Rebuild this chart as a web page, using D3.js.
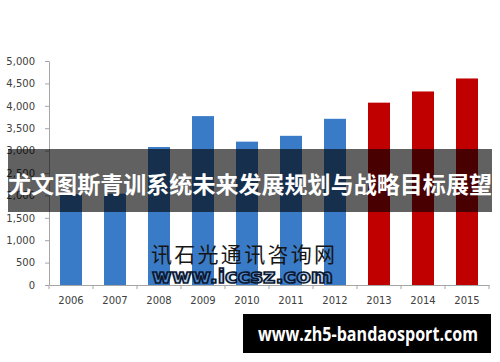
<!DOCTYPE html>
<html>
<head>
<meta charset="utf-8">
<script src="https://cdn.jsdelivr.net/npm/d3@7"></script>
<style>
    body { margin: 0; background: #fff; }
    svg { display: block; }
</style>
</head>
<body>
<div id="chart"></div>
<script>
const years = ["2006", "2007", "2008", "2009", "2010", "2011", "2012", "2013", "2014", "2015"];
const values = [2030, 2040, 3080, 3770, 3200, 3330, 3710, 4070, 4320, 4610];
const forecastYears = ["2013", "2014", "2015"];
const yTicks = [0, 500, 1000, 1500, 2000, 2500, 3000, 3500, 4000, 4500, 5000];

const titleText = "尤文图斯青训系统未来发展规划与战略目标展望";
const watermarkCn = "讯石光通讯咨询网";
const watermarkUrl = "www.iccsz.com";
const footerText = "www.zh5-bandaosport.com";

const width = 500, height = 362;
const margin = {top: 61, right: 11, bottom: 77, left: 49};

const svg = d3.select("#chart").append("svg")
    .attr("width", width)
    .attr("height", height);

const x = d3.scaleBand()
    .domain(years)
    .range([margin.left, width - margin.right])
    .paddingInner(0.5)
    .paddingOuter(0.25);

const y = d3.scaleLinear()
    .domain([0, 5000])
    .range([height - margin.bottom, margin.top]);

const axisColor = "#a6a6a6";
const labelColor = "#404040";

// bars
svg.append("g")
    .selectAll("rect")
    .data(years)
    .join("rect")
    .attr("x", d => x(d))
    .attr("width", x.bandwidth())
    .attr("y", (d, i) => y(values[i]))
    .attr("height", (d, i) => y(0) - y(values[i]))
    .attr("fill", d => forecastYears.includes(d) ? "#c00000" : "#3a7bc8");

// y axis
const yAxis = svg.append("g")
    .attr("transform", "translate(" + margin.left + ",0)")
    .call(d3.axisLeft(y).tickValues(yTicks).tickFormat(d3.format(",")).tickSize(4).tickSizeOuter(0));
yAxis.select(".domain").attr("stroke", axisColor);
yAxis.selectAll(".tick line").attr("stroke", axisColor);
yAxis.selectAll(".tick text")
    .attr("x", -14)
    .attr("fill", labelColor)
    .style("font-family", "DejaVu Sans")
    .style("font-size", "10px");

// x axis with ticks at the category boundaries
const xAxis = svg.append("g")
    .attr("transform", "translate(0," + y(0) + ")")
    .call(d3.axisBottom(x).tickSize(0).tickSizeOuter(0).tickPadding(12));
xAxis.select(".domain").attr("stroke", axisColor);
xAxis.selectAll(".tick text")
    .attr("fill", labelColor)
    .style("font-family", "DejaVu Sans")
    .style("font-size", "10px");

const bounds = years.map(d => x(d) - x.step() * x.paddingInner() / 2)
    .concat([width - margin.right]);
xAxis.selectAll("line.bound")
    .data(bounds)
    .join("line")
    .attr("class", "bound")
    .attr("x1", d => d).attr("x2", d => d)
    .attr("y1", 0).attr("y2", 4)
    .attr("stroke", axisColor);

// watermark
svg.append("text")
    .attr("x", 151)
    .attr("y", 262)
    .attr("textLength", 184)
    .attr("lengthAdjust", "spacing")
    .attr("fill", "#161616")
    .style("font-family", "Noto Sans CJK SC")
    .style("font-size", "21px")
    .text(watermarkCn);

svg.append("text")
    .attr("x", 152)
    .attr("y", 283)
    .attr("textLength", 181)
    .attr("lengthAdjust", "spacingAndGlyphs")
    .attr("fill", "#6f9fd8")
    .attr("fill-opacity", 0.5)
    .attr("stroke", "#0c1830")
    .attr("stroke-width", 1.6)
    .style("font-family", "DejaVu Sans")
    .style("font-weight", "bold")
    .style("font-size", "19px")
    .text(watermarkUrl);

// title banner
svg.append("rect")
    .attr("x", 8)
    .attr("y", 149)
    .attr("width", 484)
    .attr("height", 63)
    .attr("fill", "#000")
    .attr("fill-opacity", 0.62);

svg.append("text")
    .attr("x", 8)
    .attr("y", 183)
    .attr("dominant-baseline", "central")
    .attr("textLength", 484)
    .attr("lengthAdjust", "spacingAndGlyphs")
    .attr("fill", "#fff")
    .style("font-family", "Noto Sans CJK SC")
    .style("font-weight", "bold")
    .style("font-size", "23px")
    .text(titleText);

// footer label
svg.append("rect")
    .attr("x", 243)
    .attr("y", 314)
    .attr("width", 248)
    .attr("height", 39)
    .attr("fill", "#000");

svg.append("text")
    .attr("x", 258)
    .attr("y", 334)
    .attr("dominant-baseline", "central")
    .attr("textLength", 220)
    .attr("lengthAdjust", "spacingAndGlyphs")
    .attr("fill", "#fff")
    .style("font-family", "Open Sans")
    .style("font-weight", "bold")
    .style("font-size", "19px")
    .text(footerText);
</script>
</body>
</html>
